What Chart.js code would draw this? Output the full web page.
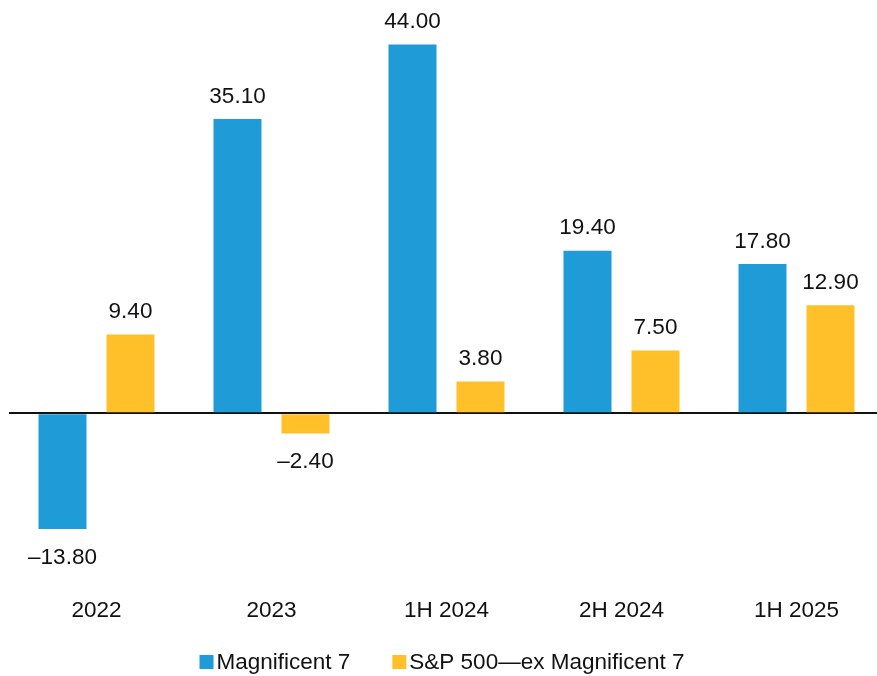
<!DOCTYPE html>
<html>
<head>
<meta charset="utf-8">
<script src="https://cdn.jsdelivr.net/npm/chart.js@4"></script>
<style>
    html, body { margin: 0; padding: 0; background: #fff; overflow: hidden; }
    #wrap { width: 884px; height: 676px; }
</style>
</head>
<body>
<div id="wrap"><canvas id="returnsChart"></canvas></div>
<script>
// periods and series values
var periods = ["2022", "2023", "1H 2024", "2H 2024", "1H 2025"];
var magnificent7 = [-13.8, 35.1, 44.0, 19.4, 17.8];
var exMagnificent7 = [9.4, -2.4, 3.8, 7.5, 12.9];

var blue = "#1f9bd7";
var yellow = "#ffc02a";
var fontFamily = "'Liberation Sans', Arial, sans-serif";
var fontSize = 22.5;

function formatValue(v) {
    var s = Math.abs(v).toFixed(2);
    return v < 0 ? "\u2013" + s : s;
}

// draws the value above (or under) each bar
var valueLabels = {
    id: "valueLabels",
    afterDatasetsDraw: function (chart) {
        var ctx = chart.ctx;
        ctx.save();
        ctx.font = fontSize + "px " + fontFamily;
        ctx.fillStyle = "#111";
        ctx.textAlign = "center";
        ctx.textBaseline = "alphabetic";
        chart.data.datasets.forEach(function (ds, i) {
            chart.getDatasetMeta(i).data.forEach(function (bar, j) {
                var v = ds.data[j];
                var y = v >= 0 ? bar.y - 16.5 : bar.y + 35;
                ctx.fillText(formatValue(v), bar.x, y);
            });
        });
        ctx.restore();
    }
};

// legend with the small box right next to the text, like the original
var bottomLegend = {
    id: "bottomLegend",
    afterDraw: function (chart) {
        var ctx = chart.ctx;
        var box = 14, boxGap = 3, itemGap = 42;
        ctx.save();
        ctx.font = fontSize + "px " + fontFamily;
        ctx.textBaseline = "alphabetic";
        ctx.textAlign = "left";
        var items = chart.data.datasets.map(function (ds) {
            return { text: ds.label, color: ds.backgroundColor, w: ctx.measureText(ds.label).width };
        });
        var total = 0;
        items.forEach(function (it, i) {
            total += box + boxGap + it.w + (i > 0 ? itemGap : 0);
        });
        var x = (chart.width - total) / 2;
        var baseline = chart.height - 7;
        items.forEach(function (it) {
            ctx.fillStyle = it.color;
            ctx.fillRect(x, baseline - box, box, box);
            x += box + boxGap;
            ctx.fillStyle = "#111";
            ctx.fillText(it.text, x, baseline);
            x += it.w + itemGap;
        });
        ctx.restore();
    }
};

var chart = new Chart(document.getElementById("returnsChart"), {
    type: "bar",
    data: {
        labels: periods,
        datasets: [
            {
                label: "Magnificent 7",
                data: magnificent7,
                backgroundColor: blue
            },
            {
                label: "S&P 500\u2014ex Magnificent 7",
                data: exMagnificent7,
                backgroundColor: yellow
            }
        ]
    },
    options: {
        responsive: true,
        maintainAspectRatio: false,
        animation: false,
        layout: {
            padding: { left: 9, right: 0, top: 0, bottom: 36 }
        },
        datasets: {
            bar: {
                categoryPercentage: 0.777,
                barPercentage: 0.706
            }
        },
        scales: {
            x: {
                grid: { display: false, drawTicks: false },
                border: { display: false },
                ticks: {
                    color: "#111",
                    padding: 16,
                    font: { family: fontFamily, size: fontSize }
                }
            },
            y: {
                min: -20,
                max: 49.3,
                display: true,
                border: { display: false },
                ticks: { display: false, stepSize: 1 },
                grid: {
                    drawTicks: false,
                    lineWidth: 2,
                    color: function (c) {
                        return c.tick && c.tick.value === 0 ? "#111" : "rgba(0,0,0,0)";
                    }
                }
            }
        },
        plugins: {
            legend: { display: false },
            tooltip: { enabled: false }
        }
    },
    plugins: [valueLabels, bottomLegend]
});
</script>
</body>
</html>
